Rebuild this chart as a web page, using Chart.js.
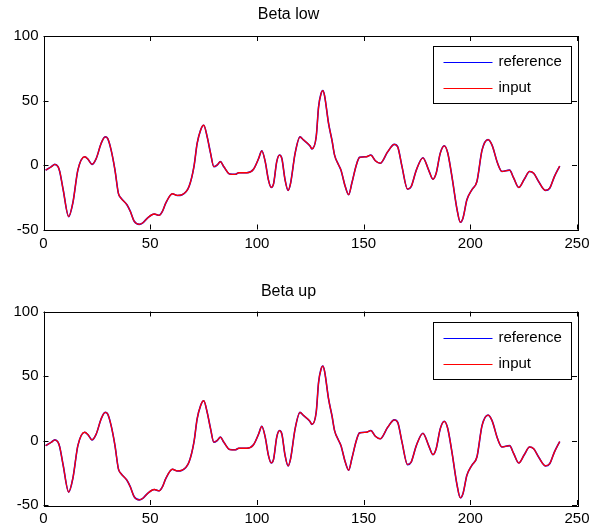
<!DOCTYPE html>
<html>
<head>
<meta charset="utf-8">
<script src="https://cdn.jsdelivr.net/npm/chart.js@4/dist/chart.umd.min.js"></script>
<style>
  html, body { margin: 0; padding: 0; background: #fff; }
  #wrap { position: relative; width: 598px; height: 529px; }
  .panel { position: absolute; left: 0; width: 598px; }
</style>
</head>
<body>
<div id="wrap">
  <div class="panel" style="top:0;height:264px;"><canvas id="c1" width="598" height="264"></canvas></div>
  <div class="panel" style="top:264px;height:265px;"><canvas id="c2" width="598" height="265"></canvas></div>
</div>
<script>
// ---- data ----
const panelTitles = ["Beta low", "Beta up"];
const seriesLabels = ["reference", "input"];
const xTicks = [0, 50, 100, 150, 200, 250];
const yTicks = [-50, 0, 50, 100];

const sampleX = [1, 3.7, 5.3, 6.8, 7.6, 9.2, 11.8, 13.8, 16.1, 19.3, 20.8, 22.7, 24.7, 27, 28.9, 30.1, 31.7, 33.5, 35.1, 36.3,
  39.1, 40.7, 42.5, 44.9, 46.4, 48.8, 51.9, 54.2, 55.7, 57.3, 60.4, 62.7, 65, 68.2, 70.5, 72, 73.6, 75.1, 76.7, 78.3,
  79.8, 81.4, 82.9, 84.5, 87.3, 89.9, 91.5, 95.3, 98.4, 100.8, 102.3, 103.9, 105.4, 106.7, 107.8, 109.3, 110.6, 111.7, 113.2, 114.6,
  115.8, 117.9, 120.2, 121.8, 124.8, 125.8, 127.8, 128.9, 130, 130.9, 131.7, 133.6, 135.2, 136.4, 138.3, 139.4, 141.4, 143, 144.5, 146.6,
  148.1, 151.3, 153.4, 155.5, 157.8, 161.3, 164.4, 166, 168, 170.6, 172.3, 174.7, 177.8, 180.5, 182.5, 184, 185.9, 187.8, 189.4, 191.4,
  193.8, 195.3, 196.6, 198.4, 200.8, 203.1, 205.5, 208.3, 210.2, 212.8, 214.8, 218.4, 220.3, 222.7, 225.3, 227.8, 229.7, 232, 235.2, 237.2,
  239.4, 241.9];

const referenceValues = [-4, -1.3, 0.5, -1.3, -5, -19, -40, -29, -4, 6.4, 4.6, 0.5, 5, 16.7, 21.8, 20.5, 11.5, -4, -22, -25.6,
  -30.8, -36, -43.6, -46, -45, -41, -38, -39, -36, -29.5, -22.3, -23.6, -23, -16.7, -1.3, 16.7, 27, 30.8, 21.8, 9,
  -1.3, 0, 2.6, -1.3, -7, -7.2, -6, -6, -3.3, 5, 11, 2.6, -11.5, -17.4, -14.6, 2.6, 7.7, 5, -11.5, -19.7,
  -14, 9, 21.8, 19.5, 15, 12.5, 22, 45, 55, 57.7, 53.8, 32, 19, 7.7, 0, -4, -16.7, -23, -14, 0,
  5.9, 6.4, 7.7, 3.3, 1.3, 10.3, 16, 14, -1.3, -18.7, -16.7, -4, 5.6, -4, -11, -6.4, 9, 14.9, 9.5, -9,
  -34.6, -44.4, -41, -27, -19, -12.8, 11.5, 19.7, 15.4, 1.3, -5, -4, -10, -17.4, -11, -5, -6.4, -12.8, -19.7, -18,
  -9, -0.8];

const inputValues = [-4, -1.3, 0.5, -1.3, -5, -19, -40, -29, -4, 6.4, 4.6, 0.5, 5, 16.7, 21.8, 20.5, 11.5, -4, -22, -25.6,
  -30.8, -36, -43.6, -46, -45, -41, -38, -39, -36, -29.5, -22.3, -23.6, -23, -16.7, -1.3, 16.7, 27, 30.8, 21.8, 9,
  -1.3, 0, 2.6, -1.3, -7, -7.2, -6, -6, -3.3, 5, 11, 2.6, -11.5, -17.4, -14.6, 2.6, 7.7, 5, -11.5, -19.7,
  -14, 9, 21.8, 19.5, 15, 12.5, 22, 45, 55, 57.7, 53.8, 32, 19, 7.7, 0, -4, -16.7, -23, -14, 0,
  5.9, 6.4, 7.7, 3.3, 1.3, 10.3, 16, 14, -1.3, -18.7, -16.7, -4, 5.6, -4, -11, -6.4, 9, 14.9, 9.5, -9,
  -34.6, -44.4, -41, -27, -19, -12.8, 11.5, 19.7, 15.4, 1.3, -5, -4, -10, -17.4, -11, -5, -6.4, -12.8, -19.7, -18,
  -9, -0.8];

// ---- rendering ----
const FONT = '"Liberation Sans", Arial, Helvetica, sans-serif';
const seriesColors = ["#0000ff", "#ff0000"];

function toPoints(xs, ys) { return xs.map((x, i) => ({ x: x, y: ys[i] })); }

const boxPlugin = {
  id: 'matlabBox',
  afterDatasetsDraw(chart) {
    const ctx = chart.ctx;
    const a = chart.chartArea;
    const xs = chart.scales.x, ys = chart.scales.y;
    ctx.save();
    ctx.strokeStyle = '#000';
    ctx.lineWidth = 1;
    ctx.beginPath();
    const L = 5;
    xTicks.forEach(v => {
      const px = Math.round(xs.getPixelForValue(v)) + 0.5;
      ctx.moveTo(px, a.bottom); ctx.lineTo(px, a.bottom - L);
      ctx.moveTo(px, a.top); ctx.lineTo(px, a.top + L);
    });
    yTicks.forEach(v => {
      const py = Math.round(ys.getPixelForValue(v)) + 0.5;
      ctx.moveTo(a.left, py); ctx.lineTo(a.left + L, py);
      ctx.moveTo(a.right, py); ctx.lineTo(a.right - L, py);
    });
    ctx.stroke();
    ctx.strokeRect(Math.round(a.left) + 0.5, Math.round(a.top) + 0.5,
                   Math.round(a.right - a.left), Math.round(a.bottom - a.top));
    // legend box
    const bw = 138, bh = 57;
    const bx = Math.round(a.right - 6 - bw) + 0.5;
    const by = Math.round(a.top + 10) + 0.5;
    ctx.fillStyle = '#fff';
    ctx.fillRect(bx, by, bw, bh);
    ctx.strokeStyle = '#000';
    ctx.strokeRect(bx, by, bw, bh);
    ctx.font = '15px ' + FONT;
    ctx.textBaseline = 'middle';
    ctx.textAlign = 'left';
    chart.data.datasets.forEach((ds, i) => {
      const ly = by + 15.5 + i * 26;
      ctx.strokeStyle = ds.borderColor;
      ctx.lineWidth = 1;
      ctx.beginPath();
      ctx.moveTo(bx + 10, Math.round(ly) + 0.5);
      ctx.lineTo(bx + 59, Math.round(ly) + 0.5);
      ctx.stroke();
      ctx.fillStyle = '#000';
      ctx.fillText(ds.label, bx + 65, ly);
    });
    ctx.restore();
  }
};

function makeChart(id, title, titlePad, xAxisHeight) {
  return new Chart(document.getElementById(id), {
    type: 'line',
    data: {
      datasets: [
        { label: seriesLabels[0], data: toPoints(sampleX, referenceValues), borderColor: seriesColors[0],
          borderWidth: 1.6, pointRadius: 0, cubicInterpolationMode: 'monotone', fill: false, order: 2 },
        { label: seriesLabels[1], data: toPoints(sampleX, inputValues), borderColor: seriesColors[1],
          borderWidth: 1.3, pointRadius: 0, cubicInterpolationMode: 'monotone', fill: false, order: 1 }
      ]
    },
    options: {
      responsive: false,
      animation: false,
      devicePixelRatio: 1,
      layout: { padding: { left: 0, right: 21, top: 0, bottom: 0 } },
      plugins: {
        legend: { display: false },
        tooltip: { enabled: false },
        title: {
          display: true, text: title, color: '#000',
          font: { family: FONT, size: 16, weight: 'normal', lineHeight: 1.2 },
          padding: titlePad
        }
      },
      scales: {
        x: {
          type: 'linear', min: 0, max: 250,
          afterBuildTicks: s => { s.ticks = xTicks.map(v => ({ value: v })); },
          afterFit: s => { s.height = xAxisHeight; },
          grid: { display: false, drawTicks: false },
          border: { display: false },
          ticks: { color: '#000', padding: 5, maxRotation: 0, font: { family: FONT, size: 15 } }
        },
        y: {
          type: 'linear', min: -50, max: 100,
          afterBuildTicks: s => { s.ticks = yTicks.map(v => ({ value: v })); },
          afterFit: s => { s.width = 43.5; },
          grid: { display: false, drawTicks: false },
          border: { display: false },
          ticks: { color: '#000', padding: 5, font: { family: FONT, size: 15 } }
        }
      }
    },
    plugins: [boxPlugin]
  });
}

makeChart('c1', panelTitles[0], { top: 4.9, bottom: 11.9 }, 34.5);
makeChart('c2', panelTitles[1], { top: 18.4, bottom: 9.9 }, 24);
</script>
</body>
</html>
